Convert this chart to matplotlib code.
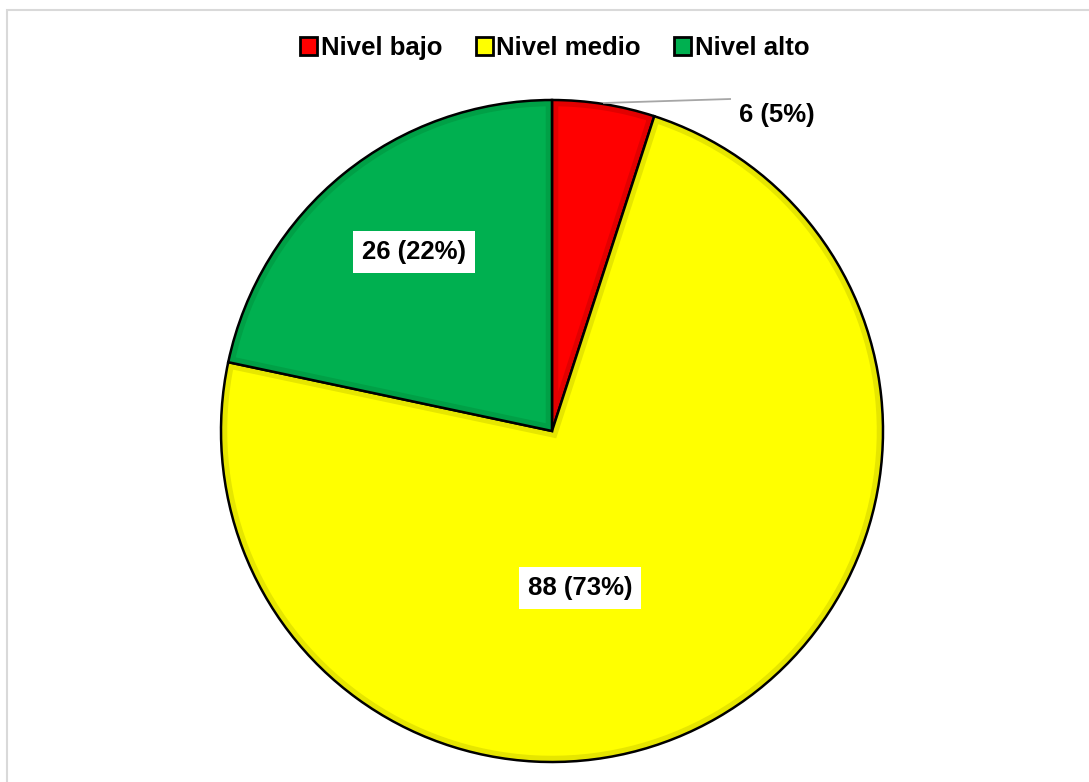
import matplotlib.pyplot as plt
from matplotlib.patches import Patch, Rectangle, Wedge

plt.rcParams['font.family'] = ['Liberation Sans', 'DejaVu Sans']

# Data
categorias = ["Nivel bajo", "Nivel medio", "Nivel alto"]
valores = [6, 88, 26]
colores = ["#ff0000", "#ffff00", "#00b050"]
bordes = ["#e20000", "#e6e600", "#00a046"]
# label placement in data units (radius = 1)
pos_etiquetas = [(0.68, 0.955), (0.085, -0.473), (-0.416, 0.541)]

total = sum(valores)
etiquetas = [f"{v} ({round(v / total * 100)}%)" for v in valores]

W, H = 1089, 782
fig = plt.figure(figsize=(W / 100, H / 100), dpi=100)

# light gray chart border (only left and top fall inside the picture)
fig.patches.append(Rectangle((7 / W, -0.1), 1.2, 1.1 - 10 / H, transform=fig.transFigure,
                             fill=False, edgecolor="#d9d9d9", linewidth=1.5))

cx, cy, r = 552, 431, 331
ax = fig.add_axes([(cx - r) / W, (H - cy - r) / H, 2 * r / W, 2 * r / H])

wedges, _ = ax.pie(valores, colors=colores, startangle=90, counterclock=False,
                   radius=1, wedgeprops=dict(linewidth=0))

# darker inner band on each slice, then black outline
for w, c in zip(wedges, bordes):
    w.set_clip_on(False)
    band = ax.add_patch(Wedge(w.center, w.r, w.theta1, w.theta2,
                              facecolor="none", edgecolor=c, linewidth=9))
    band.set_clip_path(w)
    ax.add_patch(Wedge(w.center, w.r, w.theta1, w.theta2, facecolor="none",
                       edgecolor="black", linewidth=1.8, clip_on=False))

# data labels
for i, (txt, (x, y)) in enumerate(zip(etiquetas, pos_etiquetas)):
    if i == 0:
        ax.text(x, y, txt, ha="center", va="center", fontsize=18.5, fontweight="bold")
    else:
        ax.text(x, y, txt, ha="center", va="center", fontsize=18.5, fontweight="bold",
                bbox=dict(boxstyle="square,pad=0.35", facecolor="white", edgecolor="none"))

# leader line for the small slice
ax.plot([0.157, 0.538], [0.991, 1.003], color="#a6a6a6", linewidth=1.3, clip_on=False)

ax.set_xlim(-1, 1)
ax.set_ylim(-1, 1)
ax.set_aspect("auto")
ax.axis("off")

handles = [Patch(facecolor=c, edgecolor="black", linewidth=2) for c in colores]
fig.legend(handles, categorias, loc="center", bbox_to_anchor=(555 / W, 1 - 48 / H),
           ncol=3, frameon=False, handlelength=0.65, handleheight=0.65,
           handletextpad=0.15, columnspacing=1.3,
           prop=dict(size=18.5, weight="bold"))

fig.savefig("out.png", dpi=100)
